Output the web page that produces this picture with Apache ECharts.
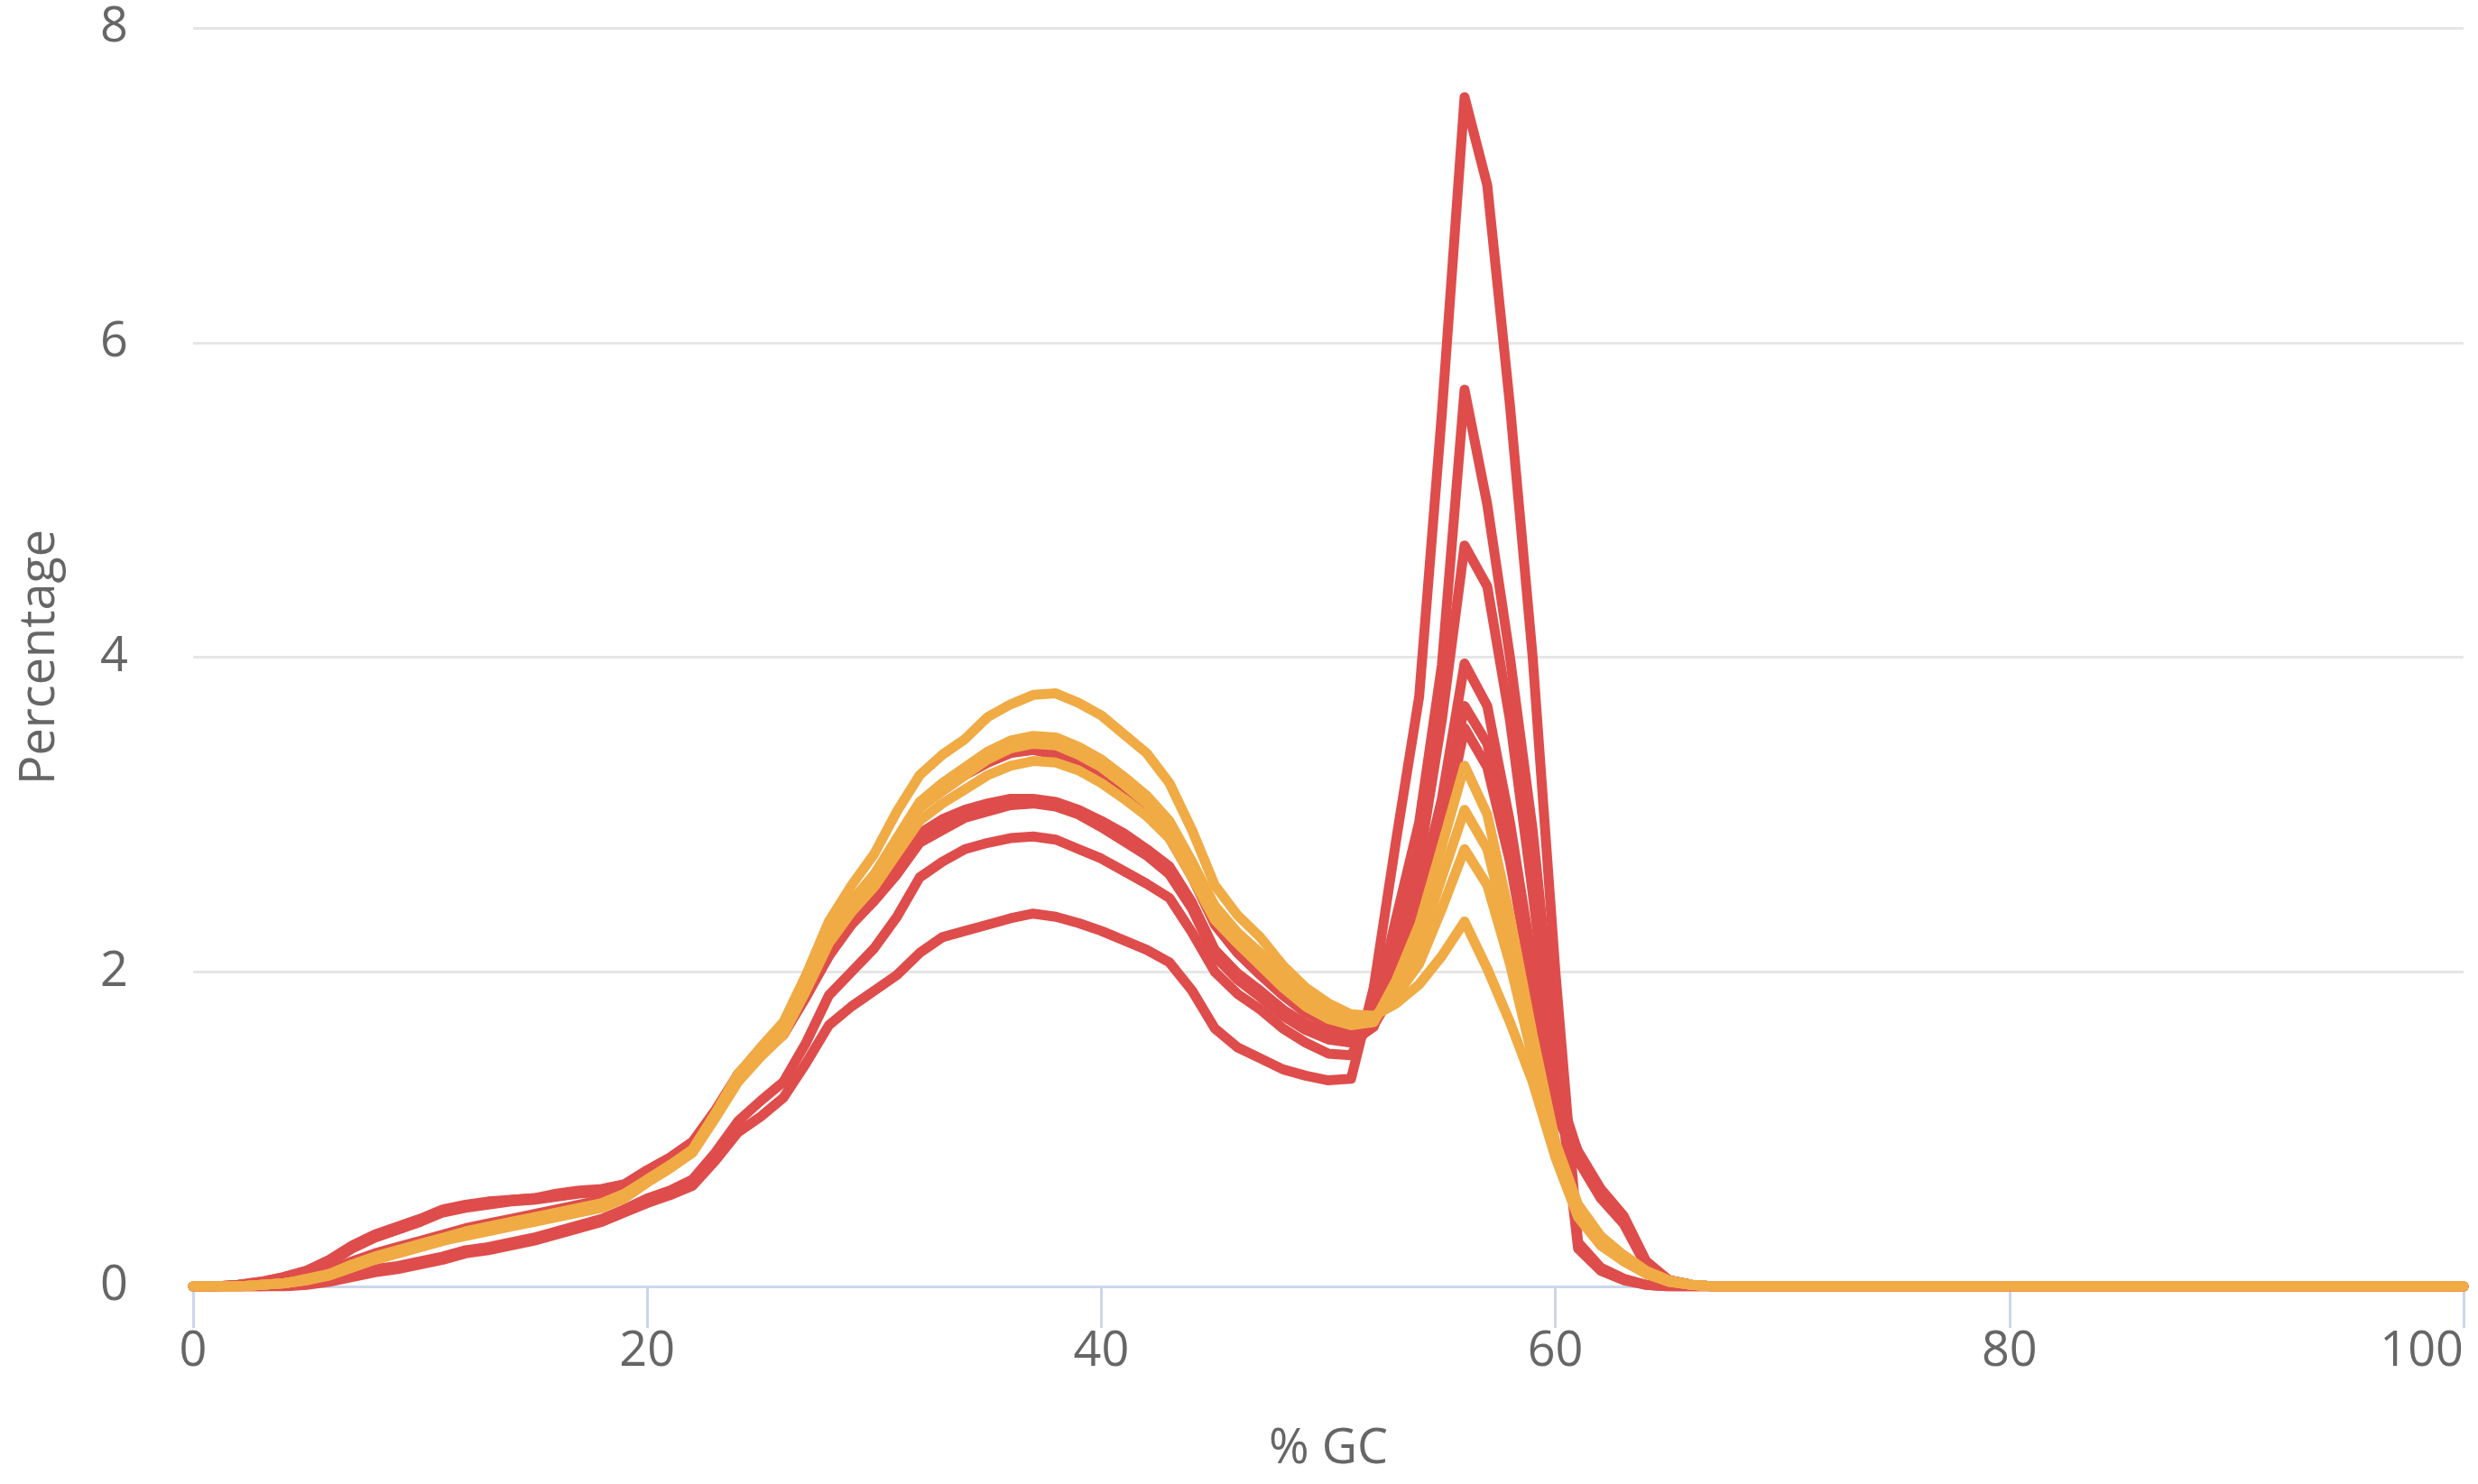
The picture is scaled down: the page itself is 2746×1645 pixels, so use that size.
<!DOCTYPE html>
<html>
<head>
<meta charset="utf-8">
<script src="https://cdn.jsdelivr.net/npm/echarts@6/dist/echarts.min.js"></script>
<style>
html,body{margin:0;padding:0;background:#fff;}
#chart{width:2746px;height:1645px;}
</style>
</head>
<body>
<div id="chart"></div>
<script>
// % GC bins
const gc = [0,1,2,3,4,5,6,7,8,9,10,11,12,13,14,15,16,17,18,19,20,21,22,23,24,25,26,27,28,29,30,31,32,33,34,35,36,37,38,39,40,41,42,43,44,45,46,47,48,49,50,51,52,53,54,55,56,57,58,59,60,61,62,63,64,65,66,67,68,69,70,71,72,73,74,75,76,77,78,79,80,81,82,83,84,85,86,87,88,89,90,91,92,93,94,95,96,97,98,99,100];

// red (fail) samples
const fail1 = [0,0,0,0,0,0.01,0.03,0.06,0.09,0.11,0.14,0.17,0.21,0.23,0.26,0.29,0.33,0.37,0.41,0.47,0.53,0.58,0.64,0.8,0.98,1.08,1.2,1.42,1.66,1.78,1.88,1.98,2.12,2.22,2.26,2.3,2.34,2.37,2.35,2.31,2.26,2.2,2.14,2.06,1.88,1.64,1.52,1.45,1.38,1.34,1.31,1.32,1.9,2.85,3.75,5.55,7.56,7.0,5.6,4.0,2.0,0.28,0.12,0.05,0.01,0,0,0,0,0,0,0,0,0,0,0,0,0,0,0,0,0,0,0,0,0,0,0,0,0,0,0,0,0,0,0,0,0,0,0,0];
const fail2 = [0,0,0,0,0.01,0.02,0.04,0.08,0.11,0.13,0.16,0.19,0.23,0.25,0.28,0.31,0.35,0.39,0.43,0.49,0.56,0.61,0.68,0.85,1.05,1.18,1.3,1.55,1.85,2.0,2.15,2.35,2.6,2.7,2.78,2.82,2.85,2.86,2.84,2.78,2.72,2.64,2.56,2.47,2.25,2.0,1.86,1.76,1.64,1.55,1.48,1.47,1.72,2.35,2.95,3.95,5.7,4.97,4.0,2.9,1.5,0.24,0.1,0.04,0.01,0,0,0,0,0,0,0,0,0,0,0,0,0,0,0,0,0,0,0,0,0,0,0,0,0,0,0,0,0,0,0,0,0,0,0,0];
const fail3 = [0,0,0.01,0.03,0.06,0.1,0.17,0.26,0.33,0.38,0.43,0.49,0.52,0.54,0.55,0.56,0.59,0.61,0.62,0.65,0.74,0.82,0.92,1.12,1.35,1.5,1.62,1.85,2.1,2.3,2.45,2.62,2.82,2.9,2.98,3.02,3.06,3.07,3.05,3.0,2.92,2.83,2.74,2.62,2.4,2.1,1.95,1.84,1.72,1.63,1.57,1.55,1.65,2.1,2.7,3.6,4.71,4.45,3.6,2.5,1.3,0.85,0.6,0.43,0.15,0.04,0.01,0,0,0,0,0,0,0,0,0,0,0,0,0,0,0,0,0,0,0,0,0,0,0,0,0,0,0,0,0,0,0,0,0,0];
const fail4 = [0,0,0.01,0.03,0.06,0.1,0.16,0.25,0.32,0.37,0.42,0.48,0.51,0.53,0.55,0.56,0.58,0.6,0.61,0.64,0.73,0.8,0.9,1.1,1.33,1.48,1.6,1.84,2.1,2.32,2.48,2.66,2.86,2.95,3.01,3.05,3.08,3.09,3.07,3.02,2.95,2.86,2.77,2.66,2.42,2.12,1.97,1.86,1.74,1.65,1.59,1.57,1.66,2.0,2.5,3.1,3.96,3.69,2.95,2.05,1.2,0.86,0.62,0.45,0.16,0.04,0.01,0,0,0,0,0,0,0,0,0,0,0,0,0,0,0,0,0,0,0,0,0,0,0,0,0,0,0,0,0,0,0,0,0,0];
const fail5 = [0,0,0.01,0.02,0.05,0.09,0.15,0.24,0.31,0.36,0.41,0.47,0.5,0.52,0.54,0.55,0.57,0.59,0.6,0.63,0.72,0.79,0.89,1.1,1.32,1.47,1.6,1.85,2.12,2.34,2.5,2.68,2.88,2.97,3.03,3.07,3.1,3.1,3.08,3.03,2.96,2.88,2.78,2.67,2.44,2.14,1.99,1.88,1.76,1.67,1.61,1.59,1.66,1.95,2.4,2.95,3.69,3.45,2.8,1.95,1.15,0.82,0.58,0.42,0.14,0.04,0.01,0,0,0,0,0,0,0,0,0,0,0,0,0,0,0,0,0,0,0,0,0,0,0,0,0,0,0,0,0,0,0,0,0,0];
const fail6 = [0,0,0,0.01,0.03,0.06,0.1,0.16,0.21,0.25,0.29,0.33,0.37,0.4,0.43,0.46,0.49,0.52,0.55,0.6,0.7,0.78,0.88,1.1,1.35,1.5,1.64,1.92,2.22,2.45,2.6,2.8,3.05,3.15,3.25,3.33,3.39,3.41,3.38,3.32,3.24,3.12,3.0,2.85,2.6,2.3,2.12,1.98,1.85,1.74,1.67,1.64,1.66,1.9,2.35,2.85,3.55,3.3,2.7,1.9,1.1,0.8,0.56,0.4,0.13,0.04,0.01,0,0,0,0,0,0,0,0,0,0,0,0,0,0,0,0,0,0,0,0,0,0,0,0,0,0,0,0,0,0,0,0,0,0];

// orange (warn) samples
const warn1 = [0,0,0,0.01,0.02,0.04,0.08,0.13,0.18,0.22,0.26,0.3,0.34,0.37,0.4,0.43,0.46,0.49,0.52,0.58,0.68,0.77,0.87,1.1,1.35,1.52,1.68,1.98,2.32,2.55,2.75,3.02,3.25,3.38,3.48,3.62,3.7,3.76,3.77,3.71,3.63,3.51,3.39,3.2,2.9,2.55,2.36,2.22,2.04,1.9,1.8,1.73,1.72,1.8,1.92,2.1,2.32,2.02,1.68,1.3,0.82,0.44,0.26,0.16,0.08,0.03,0.01,0,0,0,0,0,0,0,0,0,0,0,0,0,0,0,0,0,0,0,0,0,0,0,0,0,0,0,0,0,0,0,0,0,0];
const warn2 = [0,0,0,0.01,0.02,0.04,0.07,0.12,0.17,0.21,0.25,0.29,0.33,0.36,0.39,0.42,0.45,0.48,0.51,0.57,0.67,0.76,0.86,1.08,1.32,1.48,1.63,1.92,2.25,2.45,2.62,2.85,3.08,3.2,3.3,3.4,3.47,3.5,3.49,3.43,3.35,3.24,3.12,2.96,2.7,2.42,2.25,2.12,1.96,1.84,1.76,1.7,1.7,1.85,2.05,2.4,2.78,2.55,2.05,1.45,0.85,0.48,0.28,0.17,0.08,0.03,0.01,0,0,0,0,0,0,0,0,0,0,0,0,0,0,0,0,0,0,0,0,0,0,0,0,0,0,0,0,0,0,0,0,0,0];
const warn3 = [0,0,0,0.01,0.02,0.05,0.08,0.14,0.19,0.23,0.27,0.31,0.35,0.38,0.41,0.44,0.47,0.5,0.53,0.59,0.68,0.77,0.87,1.1,1.34,1.5,1.65,1.93,2.24,2.44,2.6,2.82,3.04,3.15,3.25,3.35,3.42,3.45,3.44,3.38,3.3,3.19,3.07,2.92,2.66,2.38,2.22,2.08,1.93,1.81,1.73,1.68,1.69,1.9,2.15,2.6,3.03,2.78,2.2,1.5,0.88,0.5,0.3,0.18,0.09,0.03,0.01,0,0,0,0,0,0,0,0,0,0,0,0,0,0,0,0,0,0,0,0,0,0,0,0,0,0,0,0,0,0,0,0,0,0];
const warn4 = [0,0,0,0.01,0.02,0.04,0.07,0.12,0.17,0.21,0.25,0.29,0.32,0.35,0.38,0.41,0.44,0.47,0.5,0.56,0.66,0.75,0.85,1.07,1.3,1.46,1.6,1.88,2.18,2.38,2.54,2.75,2.96,3.07,3.16,3.25,3.31,3.34,3.33,3.28,3.2,3.1,2.99,2.85,2.6,2.33,2.18,2.04,1.9,1.78,1.7,1.66,1.68,1.95,2.3,2.8,3.31,3.0,2.35,1.6,0.92,0.52,0.32,0.2,0.1,0.04,0.01,0,0,0,0,0,0,0,0,0,0,0,0,0,0,0,0,0,0,0,0,0,0,0,0,0,0,0,0,0,0,0,0,0,0];

const failSeries = [fail1, fail2, fail3, fail4, fail5, fail6];
const warnSeries = [warn1, warn2, warn3, warn4];
const xTicks = [0, 20, 40, 60, 80, 100];
const yTicks = [0, 2, 4, 6, 8];

const RED = '#de4d4b';
const ORANGE = '#f0ab45';
const FONT = '"Open Sans", sans-serif';

function mk(arr, color, i) {
  return {
    type: 'line',
    name: (color === RED ? 'fail ' : 'warn ') + (i + 1),
    data: gc.map((x, k) => [x, arr[k]]),
    showSymbol: false,
    symbol: 'none',
    lineStyle: { color: color, width: 11, join: 'round', cap: 'round' },
    itemStyle: { color: color },
    animation: false,
    z: 2
  };
}

const series = [];
failSeries.forEach((a, i) => series.push(mk(a, RED, i)));
warnSeries.forEach((a, i) => series.push(mk(a, ORANGE, i)));

const chart = echarts.init(document.getElementById('chart'), null, { renderer: 'canvas' });
chart.setOption({
  backgroundColor: '#ffffff',
  animation: false,
  grid: { left: 214, right: 16, top: 31, bottom: 219, containLabel: false },
  xAxis: {
    type: 'value',
    min: xTicks[0],
    max: xTicks[xTicks.length - 1],
    interval: 20,
    name: '% GC',
    nameLocation: 'middle',
    nameGap: 154,
    nameTextStyle: { fontFamily: FONT, fontSize: 54, color: '#666666' },
    axisLine: { show: true, lineStyle: { color: '#ccd6eb', width: 3 } },
    axisTick: { show: true, length: 46, lineStyle: { color: '#ccd6eb', width: 3 } },
    axisLabel: { fontFamily: FONT, fontSize: 54, color: '#666666', margin: 46, alignMaxLabel: 'right' },
    splitLine: { show: false }
  },
  yAxis: {
    type: 'value',
    min: yTicks[0],
    max: yTicks[yTicks.length - 1],
    interval: 2,
    name: 'Percentage',
    nameLocation: 'middle',
    nameGap: 142,
    nameTextStyle: { fontFamily: FONT, fontSize: 54, color: '#666666' },
    axisLine: { show: false },
    axisTick: { show: false },
    axisLabel: { fontFamily: FONT, fontSize: 54, color: '#666666', margin: 72 },
    splitLine: { show: true, lineStyle: { color: '#e6e6e6', width: 3 } }
  },
  series: series
});
</script>
</body>
</html>
